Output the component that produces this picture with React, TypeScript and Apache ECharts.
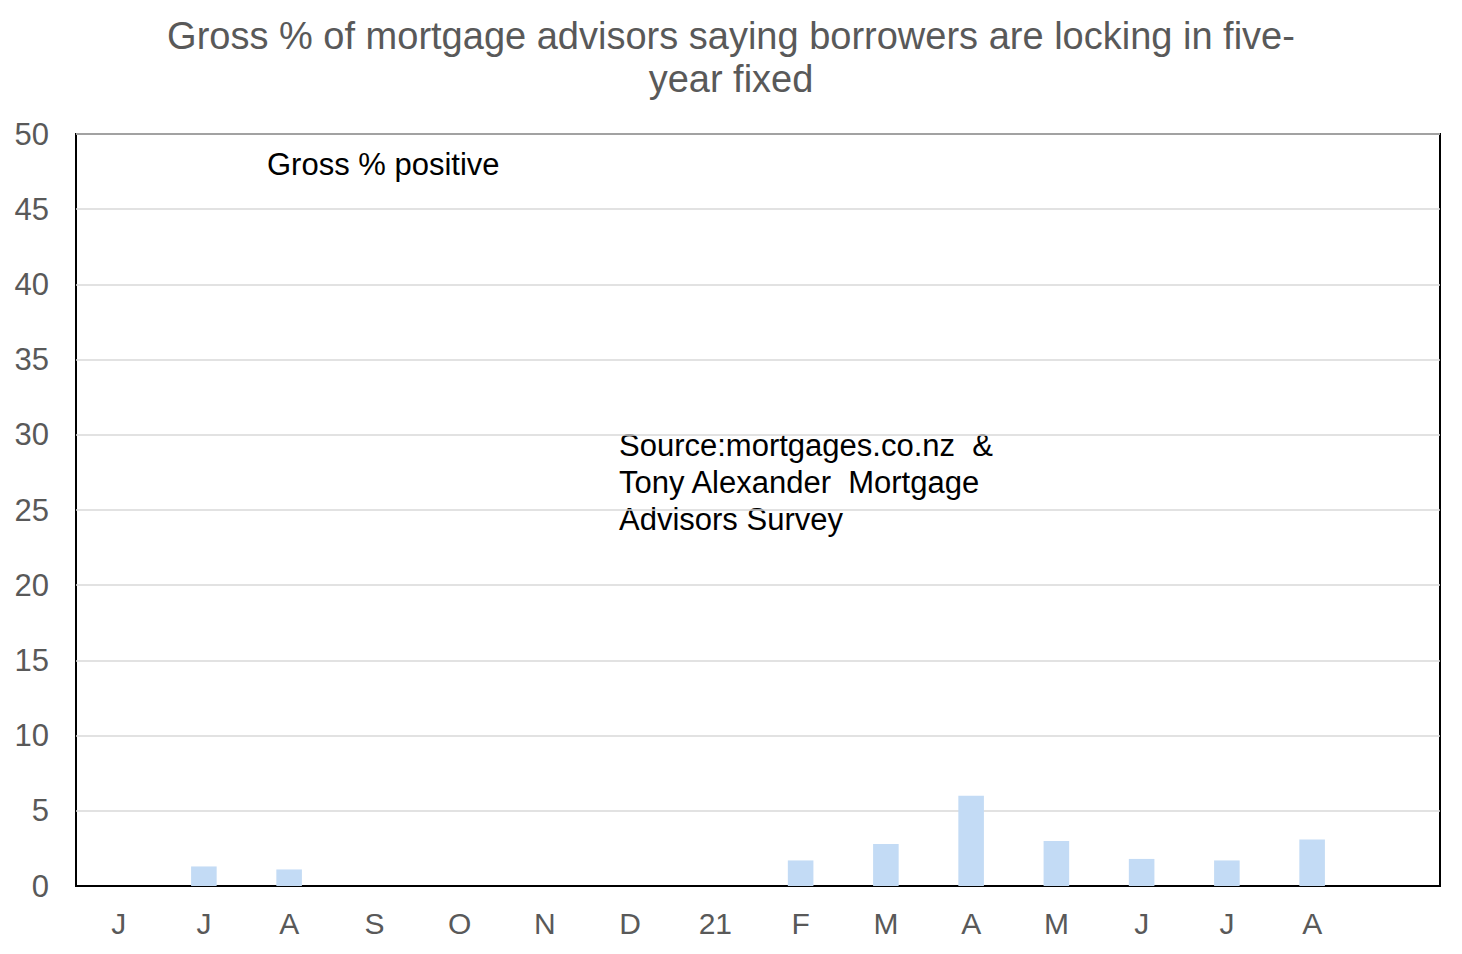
import React, { useEffect, useRef } from "react";
import * as echarts from "echarts";

const categories = ["J", "J", "A", "S", "O", "N", "D", "21", "F", "M", "A", "M", "J", "J", "A", ""];
const grossPositive = [null, 1.3, 1.1, null, null, null, null, null, 1.7, 2.8, 6.0, 3.0, 1.8, 1.7, 3.1, null];
const yTicks = { min: 0, max: 50, interval: 5 };
const titleText = "Gross % of mortgage advisors saying borrowers are locking in five-\nyear fixed";
const seriesLabel = "Gross % positive";
const sourceText = "Source:mortgages.co.nz  &\nTony Alexander  Mortgage\nAdvisors Survey";

export default function App() {
  const ref = useRef<HTMLDivElement>(null);
  useEffect(() => {
    document.body.style.margin = "0";
    const chart = echarts.init(ref.current!, null, { renderer: "svg" });
    const font = "'Liberation Sans', Arial, sans-serif";
    chart.setOption({
      animation: false,
      backgroundColor: "#ffffff",
      textStyle: { fontFamily: font },
      title: {
        text: titleText,
        left: "center",
        top: 9,
        textStyle: { color: "#595959", fontSize: 38, fontWeight: "normal", lineHeight: 43, fontFamily: font },
      },
      grid: { left: 76, right: 22, top: 134, bottom: 68, show: true, borderColor: "#000", borderWidth: 2, containLabel: false },
      xAxis: {
        type: "category",
        data: categories,
        axisLine: { show: true, lineStyle: { color: "#000", width: 2 } },
        axisTick: { show: false },
        axisLabel: { color: "#595959", fontSize: 30, margin: 22, fontFamily: font, interval: 0 },
      },
      yAxis: {
        type: "value",
        min: yTicks.min,
        max: yTicks.max,
        interval: yTicks.interval,
        axisLine: { show: false },
        axisTick: { show: false },
        axisLabel: { color: "#595959", fontSize: 31, margin: 27, fontFamily: font },
        splitLine: { lineStyle: { color: "#d9d9d9", width: 1.5 } },
      },
      series: [
        {
          name: seriesLabel,
          type: "bar",
          data: grossPositive,
          barWidth: "30%",
          itemStyle: { color: "#c3dbf5" },
        },
      ],
      graphic: [
        {
          type: "text",
          left: 267,
          top: 149,
          style: { text: seriesLabel, fill: "#000", fontSize: 31, fontFamily: font },
        },
        {
          type: "text",
          left: 619,
          top: 427,
          style: { text: sourceText, fill: "#000", fontSize: 31, lineHeight: 37, fontFamily: font },
        },
      ],
    });
    return () => chart.dispose();
  }, []);
  return <div ref={ref} style={{ width: 1462, height: 954 }} />;
}
